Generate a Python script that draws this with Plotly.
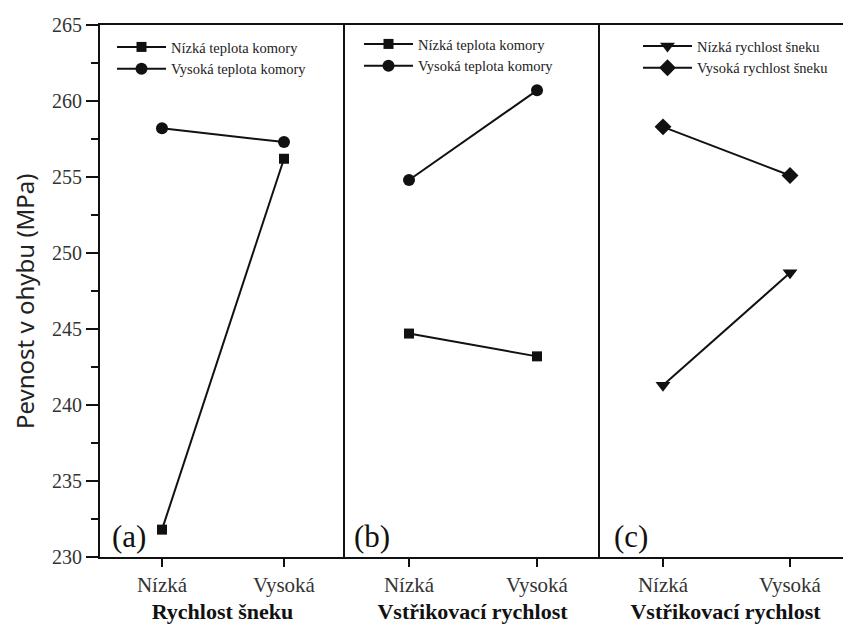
import plotly.graph_objects as go

levels = ["Nízká", "Vysoká"]

# Panel (a): Rychlost šneku
a_low_temp = [231.8, 256.2]
a_high_temp = [258.2, 257.3]
# Panel (b): Vstřikovací rychlost
b_low_temp = [244.7, 243.2]
b_high_temp = [254.8, 260.7]
# Panel (c): Vstřikovací rychlost
c_low_speed = [241.3, 248.7]
c_high_speed = [258.3, 255.1]

x_titles = ["Rychlost šneku", "Vstřikovací rychlost", "Vstřikovací rychlost"]
y_title = "Pevnost v ohybu (MPa)"
panel_labels = ["(a)", "(b)", "(c)"]
legend_names = {
    "lt": "Nízká teplota komory",
    "ht": "Vysoká teplota komory",
    "ls": "Nízká rychlost šneku",
    "hs": "Vysoká rychlost šneku",
}

SERIF = "Liberation Serif"
BLACK = "#111111"
OFF = 8  # page body margin
W, H = 851 - OFF, 624 - OFF
# target plot area in page pixels: x 100..851, y 25..557
ml, mr, mt, mb = 100 - OFF, 0, 25 - OFF, 624 - 557
pw = W - ml - mr
ph = H - mt - mb

fig = go.Figure()

def add(xax, yax, y, name, symbol, size, legend):
    fig.add_trace(go.Scatter(
        x=levels, y=y, name=name, mode="lines+markers",
        line=dict(color=BLACK, width=2),
        marker=dict(symbol=symbol, size=size, color=BLACK),
        xaxis=xax, yaxis=yax, legend=legend, cliponaxis=False))

add("x", "y", a_low_temp, legend_names["lt"], "square", 10, "legend")
add("x", "y", a_high_temp, legend_names["ht"], "circle", 12, "legend")
add("x2", "y2", b_low_temp, legend_names["lt"], "square", 10, "legend2")
add("x2", "y2", b_high_temp, legend_names["ht"], "circle", 12, "legend2")
add("x3", "y3", c_low_speed, legend_names["ls"], "triangle-down", 13, "legend3")
add("x3", "y3", c_high_speed, legend_names["hs"], "diamond", 13, "legend3")

def px_x(p):
    return (p - OFF - ml) / pw

def px_y(p):
    return 1 - (p - OFF - mt) / ph

# panel pixel edges (page coords)
edges = [100, 345, 600, 851]
doms = [[px_x(edges[i]), px_x(edges[i + 1])] for i in range(3)]
doms[-1][1] = 1.0
ranges = [[-0.508, 1.5], [-0.5, 1.492], [-0.496, 1.48]]

for i in range(3):
    key = "xaxis" if i == 0 else f"xaxis{i+1}"
    fig.layout[key] = dict(
        domain=doms[i], range=ranges[i], type="category",
        anchor="y" if i == 0 else f"y{i+1}",
        showline=True, linecolor=BLACK, linewidth=2, mirror=True,
        ticks="outside", ticklen=8, tickwidth=2, tickcolor=BLACK,
        tickfont=dict(family=SERIF, size=21, color="#333"),
        showgrid=False, zeroline=False,
        title=dict(text="<b>" + x_titles[i] + "</b>",
                   font=dict(family=SERIF, size=22, color=BLACK), standoff=8),
    )
    ykey = "yaxis" if i == 0 else f"yaxis{i+1}"
    ycfg = dict(
        domain=[0, 1], range=[230, 265], anchor="x" if i == 0 else f"x{i+1}",
        showline=True, linecolor=BLACK, linewidth=2,
        showgrid=False, zeroline=False,
    )
    if i == 0:
        ycfg.update(
            ticks="outside", ticklen=12, tickwidth=2, tickcolor=BLACK,
            dtick=5, tick0=230,
            tickfont=dict(family=SERIF, size=20, color="#333"),
            minor=dict(ticks="outside", ticklen=7, tickwidth=2, tickcolor=BLACK, dtick=2.5),
        )
    else:
        ycfg.update(showticklabels=False, ticks="")
    fig.layout[ykey] = ycfg

# y-axis title (placed as rotated text to match the reference position)
fig.add_annotation(
    x=px_x(24), y=px_y(301), xref="paper", yref="paper",
    xanchor="center", yanchor="middle", textangle=-90, showarrow=False,
    text=y_title, font=dict(family="Noto Sans", size=24, color="#222"))

label_x = [110, 352, 612]
for i in range(3):
    fig.add_annotation(
        x=px_x(label_x[i]), y=px_y(536), xref="paper", yref="paper",
        xanchor="left", yanchor="middle", text=panel_labels[i], showarrow=False,
        font=dict(family=SERIF, size=31, color=BLACK))

leg_font = dict(family=SERIF, size=14.5, color="#222")
leg_pos = [(112, 31), (359, 28), (638, 30)]
for i, (lx, ly) in enumerate(leg_pos):
    key = "legend" if i == 0 else f"legend{i+1}"
    fig.layout[key] = dict(
        x=px_x(lx), y=px_y(ly),
        xanchor="left", yanchor="top", bgcolor="rgba(0,0,0,0)",
        font=leg_font, itemwidth=49, borderwidth=0)

fig.update_layout(
    width=W, height=H, margin=dict(l=ml, r=mr, t=mt, b=mb),
    paper_bgcolor="white", plot_bgcolor="white", showlegend=True,
)

fig.write_html("out.html")
